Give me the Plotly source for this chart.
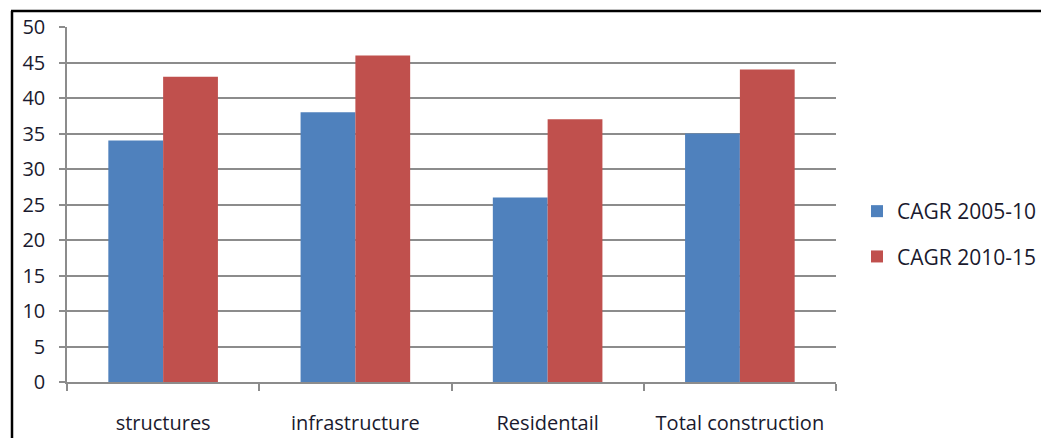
import plotly.graph_objects as go

categories = ["structures", "infrastructure", "Residentail", "Total construction"]
cagr_2005_10 = [34, 38, 26, 35]
cagr_2010_15 = [43, 46, 37, 44]
series_names = ["CAGR 2005-10", "CAGR 2010-15"]
y_ticks = [0, 5, 10, 15, 20, 25, 30, 35, 40, 45, 50]

FONT = "Open Sans"
GRID = "#8c8c8c"
TEXT = "#1a1a2e"

fig = go.Figure()
fig.add_trace(go.Bar(x=categories, y=cagr_2005_10, name=series_names[0],
                     legendgroup="a",
                     marker=dict(color="#4F81BD", line=dict(width=0))))
fig.add_trace(go.Bar(x=categories, y=cagr_2010_15, name=series_names[1],
                     legendgroup="b",
                     marker=dict(color="#C0504D", line=dict(width=0))))

L, R, T, B = 67, 836, 27, 382
W, H = 1041, 438

def px_x(v):
    return (v - L) / (R - L)

def px_y(v):
    return (B - v) / (B - T)

fig.update_layout(
    width=W, height=H,
    margin=dict(l=L, r=W - R, t=T, b=H - B, pad=0, autoexpand=False),
    paper_bgcolor="white", plot_bgcolor="white",
    barmode="group", bargap=0.43, bargroupgap=0,
    font=dict(family=FONT, size=20, color=TEXT),
    legend=dict(x=px_x(857), y=px_y(191), xanchor="left", yanchor="top",
                font=dict(family=FONT, size=21, color=TEXT),
                tracegroupgap=15, itemwidth=30, bgcolor="rgba(0,0,0,0)"),
    xaxis=dict(showline=True, linecolor=GRID, linewidth=1.5, automargin=False,
               ticks="outside", tickson="boundaries", ticklen=7,
               tickcolor=GRID, tickwidth=1.5, showgrid=False,
               ticklabelstandoff=22, tickfont=dict(size=20, color=TEXT)),
    yaxis=dict(range=[0, 50], tickvals=y_ticks, showline=True, automargin=False,
               linecolor=GRID, linewidth=1.5, ticks="outside", ticklen=6,
               tickcolor=GRID, tickwidth=1.5, showgrid=True, gridcolor=GRID,
               gridwidth=1.5, zeroline=False, ticklabelstandoff=10,
               tickfont=dict(size=20, color=TEXT)),
    shapes=[
        dict(type="line", xref="paper", yref="paper",
             x0=px_x(12), x1=px_x(12), y0=px_y(H + 5), y1=px_y(11),
             line=dict(color="black", width=2.5)),
        dict(type="line", xref="paper", yref="paper",
             x0=px_x(11), x1=px_x(W + 5), y0=px_y(11), y1=px_y(11),
             line=dict(color="black", width=2.5)),
    ],
)

fig.write_html("out.html")
